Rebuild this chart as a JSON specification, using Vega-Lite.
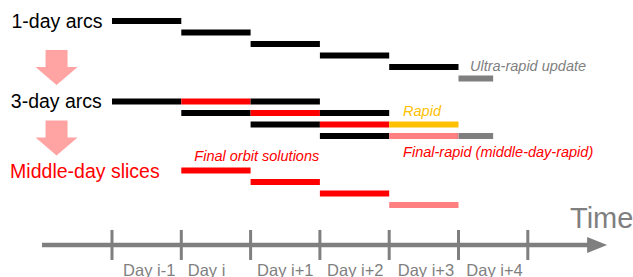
{
  "$schema": "https://vega.github.io/schema/vega-lite/v6.json",
  "width": 633,
  "height": 277,
  "autosize": {"type": "none"},
  "padding": 0,
  "background": "white",
  "config": {"view": {"stroke": null}},
  "datasets": {
    "bars": [
      {"start": 0, "end": 1, "row": 0, "kind": "arc"},
      {"start": 1, "end": 2, "row": 1, "kind": "arc"},
      {"start": 2, "end": 3, "row": 2, "kind": "arc"},
      {"start": 3, "end": 4, "row": 3, "kind": "arc"},
      {"start": 4, "end": 5, "row": 4, "kind": "arc"},
      {"start": 5, "end": 5.5, "row": 5, "kind": "ultra"},
      {"start": 0, "end": 1, "row": 7, "kind": "arc"},
      {"start": 1, "end": 2, "row": 7, "kind": "final"},
      {"start": 2, "end": 3, "row": 7, "kind": "arc"},
      {"start": 1, "end": 2, "row": 8, "kind": "arc"},
      {"start": 2, "end": 3, "row": 8, "kind": "final"},
      {"start": 3, "end": 4, "row": 8, "kind": "arc"},
      {"start": 2, "end": 3, "row": 9, "kind": "arc"},
      {"start": 3, "end": 4, "row": 9, "kind": "final"},
      {"start": 4, "end": 5, "row": 9, "kind": "rapid"},
      {"start": 3, "end": 4, "row": 10, "kind": "arc"},
      {"start": 4, "end": 5, "row": 10, "kind": "finalrapid"},
      {"start": 5, "end": 5.5, "row": 10, "kind": "ultra"},
      {"start": 1, "end": 2, "row": 13, "kind": "final"},
      {"start": 2, "end": 3, "row": 14, "kind": "final"},
      {"start": 3, "end": 4, "row": 15, "kind": "final"},
      {"start": 4, "end": 5, "row": 16, "kind": "finalrapid"}
    ],
    "stages": [
      {"label": "1-day arcs", "x": -1.45, "row": 0.6, "kind": "arc"},
      {"label": "3-day arcs", "x": -1.46, "row": 7.6, "kind": "arc"},
      {"label": "Middle-day slices", "x": -1.47, "row": 13.62, "kind": "final"}
    ],
    "notes": [
      {"label": "Ultra-rapid update", "x": 5.166, "row": 4.32, "kind": "ultra"},
      {"label": "Rapid", "x": 4.2, "row": 8.23, "kind": "rapid"},
      {"label": "Final-rapid (middle-day-rapid)", "x": 4.2, "row": 11.85, "kind": "final"},
      {"label": "Final orbit solutions", "x": 1.188, "row": 12.15, "kind": "final"}
    ],
    "days": [
      {"label": "Day i-1", "x": 0.537, "row": 22.17},
      {"label": "Day i", "x": 1.364, "row": 22.17},
      {"label": "Day i+1", "x": 2.5, "row": 22.17},
      {"label": "Day i+2", "x": 3.51, "row": 22.17},
      {"label": "Day i+3", "x": 4.53, "row": 22.17},
      {"label": "Day i+4", "x": 5.52, "row": 22.17}
    ],
    "ticks": [
      {"x": 0, "top": 18.17, "bottom": 20.78},
      {"x": 1, "top": 18.17, "bottom": 20.78},
      {"x": 2, "top": 18.17, "bottom": 20.78},
      {"x": 3, "top": 18.17, "bottom": 20.78},
      {"x": 4, "top": 18.17, "bottom": 20.78},
      {"x": 5, "top": 18.17, "bottom": 20.78},
      {"x": 6, "top": 18.17, "bottom": 20.78}
    ],
    "timeaxis": [{"start": -1.01, "end": 6.9, "row": 19.48}],
    "arrowhead": [{"x": 7.0, "row": 19.48}],
    "downarrows": [
      {"x": -0.8, "row": 4.04},
      {"x": -0.8, "row": 10.17}
    ],
    "timelabel": [{"label": "Time", "x": 6.609, "row": 18.0}]
  },
  "layer": [
    {
      "data": {"name": "timeaxis"},
      "mark": {"type": "rule", "color": "#7F7F7F", "strokeWidth": 4.5},
      "encoding": {
        "x": {"field": "start", "type": "quantitative", "scale": {"domain": [-1.616, 7.518], "nice": false, "zero": false}, "axis": null},
        "x2": {"field": "end"},
        "y": {"field": "row", "type": "quantitative", "scale": {"domain": [-1.826, 22.261], "nice": false, "zero": false, "reverse": true}, "axis": null}
      }
    },
    {
      "data": {"name": "ticks"},
      "mark": {"type": "rule", "color": "#7F7F7F", "strokeWidth": 3},
      "encoding": {
        "x": {"field": "x", "type": "quantitative"},
        "y": {"field": "top", "type": "quantitative"},
        "y2": {"field": "bottom"}
      }
    },
    {
      "data": {"name": "arrowhead"},
      "mark": {"type": "point", "shape": "M-1,-0.8L1,0L-1,0.8Z", "filled": true, "color": "#7F7F7F", "opacity": 1, "size": 400, "strokeWidth": 0},
      "encoding": {
        "x": {"field": "x", "type": "quantitative"},
        "y": {"field": "row", "type": "quantitative"}
      }
    },
    {
      "data": {"name": "downarrows"},
      "mark": {"type": "point", "shape": "M-0.524,-0.833L0.524,-0.833L0.524,-0.024L1,-0.024L0,0.833L-1,-0.024L-0.524,-0.024Z", "filled": true, "color": "#FFA3A3", "opacity": 1, "size": 1764, "strokeWidth": 0},
      "encoding": {
        "x": {"field": "x", "type": "quantitative"},
        "y": {"field": "row", "type": "quantitative"}
      }
    },
    {
      "data": {"name": "bars"},
      "mark": {"type": "rule", "strokeWidth": 6, "strokeCap": "butt"},
      "encoding": {
        "x": {"field": "start", "type": "quantitative"},
        "x2": {"field": "end"},
        "y": {"field": "row", "type": "quantitative"},
        "color": {"field": "kind", "type": "nominal", "scale": {"domain": ["arc", "final", "rapid", "finalrapid", "ultra"], "range": ["#000000", "#FF0000", "#FFC000", "#FF8080", "#7F7F7F"]}, "legend": null}
      }
    },
    {
      "data": {"name": "stages"},
      "mark": {"type": "text", "align": "left", "baseline": "alphabetic", "font": "Liberation Sans", "fontSize": 19.5},
      "encoding": {
        "x": {"field": "x", "type": "quantitative"},
        "y": {"field": "row", "type": "quantitative"},
        "text": {"field": "label"},
        "color": {"field": "kind", "type": "nominal", "legend": null}
      }
    },
    {
      "data": {"name": "notes"},
      "mark": {"type": "text", "align": "left", "baseline": "alphabetic", "font": "Liberation Sans", "fontSize": 14.5, "fontStyle": "italic"},
      "encoding": {
        "x": {"field": "x", "type": "quantitative"},
        "y": {"field": "row", "type": "quantitative"},
        "text": {"field": "label"},
        "color": {"field": "kind", "type": "nominal", "legend": null}
      }
    },
    {
      "data": {"name": "days"},
      "mark": {"type": "text", "align": "center", "baseline": "alphabetic", "font": "Liberation Sans", "fontSize": 16.5, "color": "#7F7F7F"},
      "encoding": {
        "x": {"field": "x", "type": "quantitative"},
        "y": {"field": "row", "type": "quantitative"},
        "text": {"field": "label"}
      }
    },
    {
      "data": {"name": "timelabel"},
      "mark": {"type": "text", "align": "left", "baseline": "alphabetic", "font": "Liberation Sans", "fontSize": 29, "color": "#7F7F7F"},
      "encoding": {
        "x": {"field": "x", "type": "quantitative"},
        "y": {"field": "row", "type": "quantitative"},
        "text": {"field": "label"}
      }
    }
  ]
}
